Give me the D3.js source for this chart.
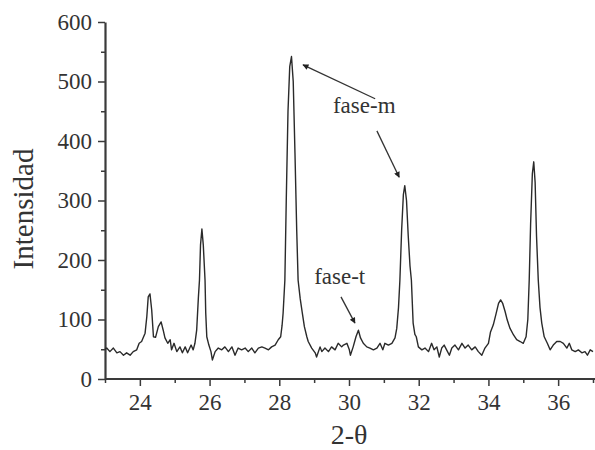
<!DOCTYPE html>
<html>
<head>
<meta charset="utf-8">
<script src="https://cdn.jsdelivr.net/npm/d3@7/dist/d3.min.js"></script>
<style>
  html, body { margin: 0; padding: 0; background: #fff; }
  svg { display: block; }
  text { font-family: "Liberation Serif", "Times New Roman", serif; fill: #333; }
</style>
</head>
<body>
<svg id="chart" width="595" height="450"></svg>
<script>
const twoTheta = [23.00,23.05,23.14,23.24,23.34,23.43,23.53,23.62,23.72,23.81,23.91,23.98,
24.05,24.15,24.20,24.24,24.29,24.34,24.39,24.45,24.53,24.61,24.67,24.72,24.80,24.87,24.91,24.98,
25.06,25.15,25.22,25.30,25.37,25.47,25.53,25.58,25.63,25.68,25.71,25.74,25.78,25.82,25.87,25.89,25.92,25.98,
26.04,26.08,26.16,26.25,26.35,26.44,26.54,26.64,26.73,26.82,26.92,
27.02,27.11,27.21,27.30,27.40,27.50,27.59,27.69,27.78,27.88,27.97,
28.04,28.08,28.11,28.16,28.20,28.25,28.30,28.35,28.40,28.45,28.50,28.54,28.60,28.66,28.72,28.79,28.83,28.93,
29.03,29.07,29.17,29.22,29.31,29.41,29.50,29.60,29.69,29.79,29.84,29.94,
30.01,30.04,30.12,30.20,30.27,30.33,30.41,30.51,30.60,30.70,30.80,30.89,30.97,
31.03,31.13,31.23,31.32,31.37,31.42,31.46,31.51,31.56,31.60,31.65,31.70,31.75,31.79,31.84,31.89,31.93,31.99,
32.09,32.18,32.28,32.37,32.44,32.52,32.59,32.66,32.73,32.80,32.88,32.95,
33.04,33.14,33.24,33.33,33.42,33.52,33.62,33.71,33.81,33.90,
34.00,34.06,34.14,34.22,34.29,34.35,34.41,34.48,34.54,34.62,34.72,34.81,34.91,
35.00,35.08,35.13,35.17,35.21,35.26,35.30,35.34,35.38,35.43,35.48,35.53,35.60,35.69,35.77,35.86,35.96,
36.06,36.15,36.25,36.32,36.39,36.49,36.58,36.68,36.77,36.84,36.92,37.00];

const intensity = [50,52,46,52,44,46,40,44,40,46,49,60,
63,77,105,138,143,116,71,70,88,96,82,69,60,66,49,60,
46,54,44,54,44,57,49,60,82,138,166,225,252,225,166,111,71,57,
46,32,46,52,49,54,46,54,40,52,49,
52,46,52,44,52,54,52,49,54,57,66,
71,90,111,166,300,450,525,542,500,380,250,166,135,111,88,71,63,52,
44,37,54,46,52,46,54,49,60,54,57,60,
49,40,54,71,82,69,60,54,52,49,52,60,49,
60,57,60,69,85,120,166,250,310,325,300,240,190,166,94,75,71,54,
49,52,46,60,49,54,37,52,57,49,40,52,
57,49,60,52,57,49,54,46,40,52,
60,79,91,110,127,133,127,113,99,85,74,66,63,
60,71,100,166,260,345,365,330,240,166,120,94,71,60,49,57,63,
63,60,52,60,49,46,49,44,46,40,49,46];

const xMajorTicks = [24, 26, 28, 30, 32, 34, 36];
const xMinorTicks = [23, 25, 27, 29, 31, 33, 35, 37];
const yMajorTicks = [0, 100, 200, 300, 400, 500, 600];
const yMinorTicks = [50, 150, 250, 350, 450, 550];

const xTitle = "2-\u03b8";
const yTitle = "Intensidad";

// annotations in data coordinates
const labelTexts = ["fase-m", "fase-t"];
const labelX = [29.54, 29.0];
const labelY = [447, 160];
const arrowFromX = [30.75, 30.80, 29.77];
const arrowFromY = [471, 417, 138];
const arrowToX = [28.68, 31.44, 30.17];
const arrowToY = [528, 339, 94];

const svg = d3.select("#chart");
const x = d3.scaleLinear().domain([23, 37]).range([105, 593]);
const y = d3.scaleLinear().domain([0, 600]).range([379, 22]);

const axisColor = "#3a3a3a";

// minor ticks
svg.append("g").attr("transform", "translate(0,379)")
  .call(d3.axisBottom(x).tickValues(xMinorTicks).tickSize(4).tickFormat(""))
  .call(g => g.select(".domain").remove())
  .call(g => g.selectAll("line").attr("stroke", axisColor).attr("stroke-width", 1.5));
svg.append("g").attr("transform", "translate(105,0)")
  .call(d3.axisLeft(y).tickValues(yMinorTicks).tickSize(4).tickFormat(""))
  .call(g => g.select(".domain").remove())
  .call(g => g.selectAll("line").attr("stroke", axisColor).attr("stroke-width", 1.5));

// major axes
const gx = svg.append("g").attr("transform", "translate(0,379)")
  .call(d3.axisBottom(x).tickValues(xMajorTicks).tickSize(7).tickPadding(8).tickSizeOuter(0).tickFormat(d3.format("d")));
gx.select(".domain").attr("stroke", axisColor).attr("stroke-width", 2.2).attr("d", "M105,0H595");
gx.selectAll("line").attr("stroke", axisColor).attr("stroke-width", 1.5);
gx.selectAll("text").style("font-size", "23px").attr("fill", "#333");

const gy = svg.append("g").attr("transform", "translate(105,0)")
  .call(d3.axisLeft(y).tickValues(yMajorTicks).tickSize(7).tickPadding(6).tickSizeOuter(0).tickFormat(d3.format("d")));
gy.select(".domain").attr("stroke", axisColor).attr("stroke-width", 2.2);
gy.selectAll("line").attr("stroke", axisColor).attr("stroke-width", 1.5);
gy.selectAll("text").style("font-size", "23px").attr("fill", "#333");

// titles
svg.append("text").attr("x", 349).attr("y", 444).attr("text-anchor", "middle")
  .style("font-size", "28px").text(xTitle);
svg.append("text").attr("transform", "translate(33,209) rotate(-90)").attr("text-anchor", "middle")
  .style("font-size", "29px").text(yTitle);

// data trace
const pts = twoTheta.map((t, i) => [t, intensity[i]]);
svg.append("path").datum(pts)
  .attr("fill", "none").attr("stroke", "#2a2a2a").attr("stroke-width", 1.4)
  .attr("stroke-linejoin", "round")
  .attr("d", d3.line().x(d => x(d[0])).y(d => y(d[1])));

// arrows
svg.append("defs").append("marker").attr("id", "ah")
  .attr("viewBox", "0 0 10 10").attr("refX", 9).attr("refY", 5)
  .attr("markerWidth", 9).attr("markerHeight", 6).attr("markerUnits", "userSpaceOnUse")
  .attr("orient", "auto")
  .append("path").attr("d", "M0,0L10,5L0,10Z").attr("fill", "#222");

svg.selectAll(".arr").data(arrowFromX.map((d, i) => i)).enter().append("line")
  .attr("class", "arr")
  .attr("x1", i => x(arrowFromX[i])).attr("y1", i => y(arrowFromY[i]))
  .attr("x2", i => x(arrowToX[i])).attr("y2", i => y(arrowToY[i]))
  .attr("stroke", "#333").attr("stroke-width", 1.3)
  .attr("marker-end", "url(#ah)");

svg.selectAll(".lbl").data(labelTexts).enter().append("text")
  .attr("class", "lbl")
  .attr("x", (d, i) => x(labelX[i])).attr("y", (d, i) => y(labelY[i]))
  .style("font-size", "23px").text(d => d);
</script>
</body>
</html>
